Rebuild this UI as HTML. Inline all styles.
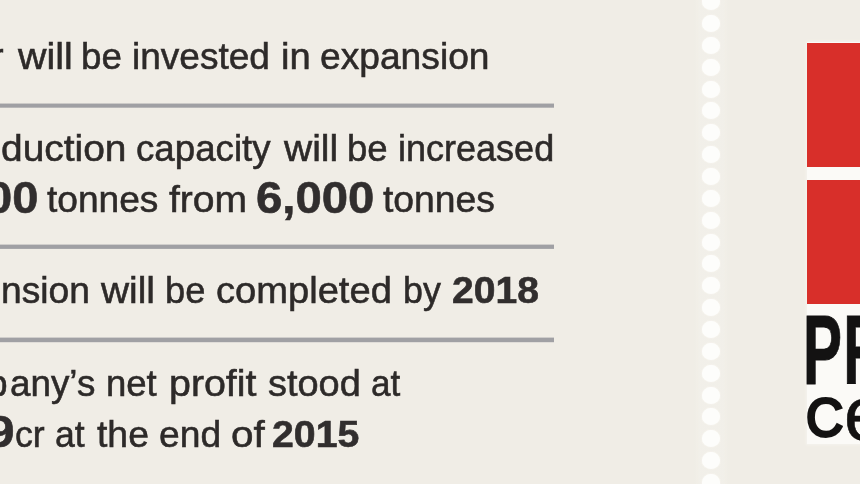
<!DOCTYPE html>
<html lang="en">
<head>
<meta charset="utf-8">
<title>Premier Cement expansion</title>
<style>
html,body{margin:0;padding:0}
body{width:860px;height:484px;overflow:hidden;background:#f0ede6;position:relative;font-family:"Liberation Sans",Arial,sans-serif;color:#2d2a29}
#stage{position:absolute;left:-20px;top:-20px;width:900px;height:524px;filter:blur(0.45px)}
#stage>*{margin-left:20px;margin-top:20px}
.w{position:absolute;white-space:nowrap;transform-origin:0 0;font-weight:400;display:block;-webkit-text-stroke:0.55px #2d2a29}
.w.b{font-weight:700;color:#312e2e;-webkit-text-stroke:0.6px #312e2e}
.rule{position:absolute;left:-20px;width:573.8px}
.band{position:absolute;left:694px;top:-20px;width:35px;height:530px;background:linear-gradient(to right,rgba(243,241,235,0),rgba(243,241,235,0.55) 5px,rgba(243,241,235,0.55) 30px,rgba(243,241,235,0))}
.d{position:absolute;left:701.5px;width:18.4px;height:17.0px;border-radius:50%;background:#fdfdfb;box-shadow:0 0 1.5px 0 #fbfaf6}
.logo{position:absolute;left:806.5px;top:42px;width:74px;height:401.8px;background:#fbfaf7;box-shadow:0 0 2px 1px #f5f3ee}
.red{position:absolute;left:807px;width:73px;background:#d82f2a}
.lt{position:absolute;white-space:nowrap;color:#131212;transform-origin:0 0;display:block}
</style>
</head>
<body>
<div id="stage">
<div class="rule" style="top:103px;height:5px;background:linear-gradient(to bottom,rgba(160,160,164,0.45) 0px 1px,rgba(160,160,164,1) 1px 2px,rgba(160,160,164,1) 2px 3px,rgba(160,160,164,1) 3px 4px,rgba(160,160,164,0.7) 4px 5px)"></div>
<div class="rule" style="top:244px;height:5px;background:linear-gradient(to bottom,rgba(160,160,164,0.4) 0px 1px,rgba(160,160,164,1) 1px 2px,rgba(160,160,164,1) 2px 3px,rgba(160,160,164,1) 3px 4px,rgba(160,160,164,0.9) 4px 5px)"></div>
<div class="rule" style="top:337px;height:6px;background:linear-gradient(to bottom,rgba(160,160,164,0.4) 0px 1px,rgba(160,160,164,1) 1px 2px,rgba(160,160,164,1) 2px 3px,rgba(160,160,164,1) 3px 4px,rgba(160,160,164,1) 4px 5px,rgba(160,160,164,0.2) 5px 6px)"></div>
<span class="w " style="left:-8.70px;top:37.98px;font-size:37.0px;line-height:37.0px;transform:scaleX(1.0000)">r</span>
<span class="w " style="left:17.66px;top:37.98px;font-size:37.0px;line-height:37.0px;transform:scaleX(1.0646)">will</span>
<span class="w " style="left:81.31px;top:37.98px;font-size:37.0px;line-height:37.0px;transform:scaleX(0.9926)">be</span>
<span class="w " style="left:132.30px;top:37.98px;font-size:37.0px;line-height:37.0px;transform:scaleX(1.0012)">invested</span>
<span class="w " style="left:280.84px;top:37.98px;font-size:37.0px;line-height:37.0px;transform:scaleX(1.0309)">in</span>
<span class="w " style="left:320.00px;top:37.98px;font-size:37.0px;line-height:37.0px;transform:scaleX(1.0048)">expansion</span>
<span class="w " style="left:0.55px;top:129.68px;font-size:37.0px;line-height:37.0px;transform:scaleX(1.0520)">duction</span>
<span class="w " style="left:135.81px;top:129.68px;font-size:37.0px;line-height:37.0px;transform:scaleX(0.9916)">capacity</span>
<span class="w " style="left:283.85px;top:129.68px;font-size:37.0px;line-height:37.0px;transform:scaleX(1.0546)">will</span>
<span class="w " style="left:347.23px;top:129.68px;font-size:37.0px;line-height:37.0px;transform:scaleX(0.9873)">be</span>
<span class="w " style="left:397.85px;top:129.68px;font-size:37.0px;line-height:37.0px;transform:scaleX(0.9735)">increased</span>
<span class="w b" style="left:-14.46px;top:175.70px;font-size:44.3px;line-height:44.3px;transform:scaleX(1.0636)">00</span>
<span class="w " style="left:46.90px;top:181.18px;font-size:37.0px;line-height:37.0px;transform:scaleX(1.0028)">tonnes</span>
<span class="w " style="left:169.30px;top:181.18px;font-size:37.0px;line-height:37.0px;transform:scaleX(1.0557)">from</span>
<span class="w b" style="left:255.53px;top:175.70px;font-size:44.3px;line-height:44.3px;transform:scaleX(1.0673)">6,000</span>
<span class="w " style="left:382.60px;top:181.18px;font-size:37.0px;line-height:37.0px;transform:scaleX(1.0073)">tonnes</span>
<span class="w " style="left:0.59px;top:271.68px;font-size:37.0px;line-height:37.0px;transform:scaleX(1.0050)">nsion</span>
<span class="w " style="left:101.35px;top:271.68px;font-size:37.0px;line-height:37.0px;transform:scaleX(1.0506)">will</span>
<span class="w " style="left:164.74px;top:271.68px;font-size:37.0px;line-height:37.0px;transform:scaleX(0.9793)">be</span>
<span class="w " style="left:216.47px;top:271.68px;font-size:37.0px;line-height:37.0px;transform:scaleX(1.0301)">completed</span>
<span class="w " style="left:402.96px;top:271.68px;font-size:37.0px;line-height:37.0px;transform:scaleX(0.9687)">by</span>
<span class="w b" style="left:451.94px;top:272.38px;font-size:37.0px;line-height:37.0px;transform:scaleX(1.0553)">2018</span>
<span class="w " style="left:-13.10px;top:364.78px;font-size:37.0px;line-height:37.0px;transform:scaleX(1.0000)">p</span>
<span class="w " style="left:10.20px;top:364.78px;font-size:37.0px;line-height:37.0px;transform:scaleX(0.9952)">any’s</span>
<span class="w " style="left:106.33px;top:364.78px;font-size:37.0px;line-height:37.0px;transform:scaleX(0.9869)">net</span>
<span class="w " style="left:169.37px;top:364.78px;font-size:37.0px;line-height:37.0px;transform:scaleX(1.0633)">profit</span>
<span class="w " style="left:268.38px;top:364.78px;font-size:37.0px;line-height:37.0px;transform:scaleX(1.0246)">stood</span>
<span class="w " style="left:371.25px;top:364.78px;font-size:37.0px;line-height:37.0px;transform:scaleX(0.9484)">at</span>
<span class="w b" style="left:-12.86px;top:410.10px;font-size:44.3px;line-height:44.3px;transform:scaleX(1.1200)">9</span>
<span class="w " style="left:15.33px;top:415.58px;font-size:37.0px;line-height:37.0px;transform:scaleX(0.9661)">cr</span>
<span class="w " style="left:54.64px;top:415.58px;font-size:37.0px;line-height:37.0px;transform:scaleX(0.9615)">at</span>
<span class="w " style="left:96.80px;top:415.58px;font-size:37.0px;line-height:37.0px;transform:scaleX(1.0089)">the</span>
<span class="w " style="left:159.49px;top:415.58px;font-size:37.0px;line-height:37.0px;transform:scaleX(1.0058)">end</span>
<span class="w " style="left:231.01px;top:415.58px;font-size:37.0px;line-height:37.0px;transform:scaleX(1.0923)">of</span>
<span class="w b" style="left:272.44px;top:416.28px;font-size:37.0px;line-height:37.0px;transform:scaleX(1.0603)">2015</span>
<div class="band"></div>
<i class="d" style="top:-6.80px"></i>
<i class="d" style="top:15.05px"></i>
<i class="d" style="top:36.90px"></i>
<i class="d" style="top:58.75px"></i>
<i class="d" style="top:80.60px"></i>
<i class="d" style="top:102.45px"></i>
<i class="d" style="top:124.30px"></i>
<i class="d" style="top:146.15px"></i>
<i class="d" style="top:168.00px"></i>
<i class="d" style="top:189.85px"></i>
<i class="d" style="top:211.70px"></i>
<i class="d" style="top:233.55px"></i>
<i class="d" style="top:255.40px"></i>
<i class="d" style="top:277.25px"></i>
<i class="d" style="top:299.10px"></i>
<i class="d" style="top:320.95px"></i>
<i class="d" style="top:342.80px"></i>
<i class="d" style="top:364.65px"></i>
<i class="d" style="top:386.50px"></i>
<i class="d" style="top:408.35px"></i>
<i class="d" style="top:430.20px"></i>
<i class="d" style="top:452.05px"></i>
<i class="d" style="top:473.90px"></i>
<div class="logo"></div>
<div class="red" style="top:43px;height:124px"></div>
<div class="red" style="top:180.3px;height:123.5px"></div>
<span class="lt" id="pr" style="left:803.2px;top:302px;font-size:97.5px;line-height:97.5px;font-weight:700;-webkit-text-stroke:0.9px #131212;transform:scaleX(0.6);letter-spacing:2px">PR</span>
<span class="lt" id="c1" style="left:805.8px;top:390.6px;font-size:54.5px;line-height:54.5px;font-weight:400;-webkit-text-stroke:3px #131212;transform:scaleX(0.945)">C</span>
<span class="lt" id="e1" style="left:844px;top:376px;font-size:76px;line-height:76px;font-weight:400;-webkit-text-stroke:0.6px #131212">e</span>
</div>
</body>
</html>
